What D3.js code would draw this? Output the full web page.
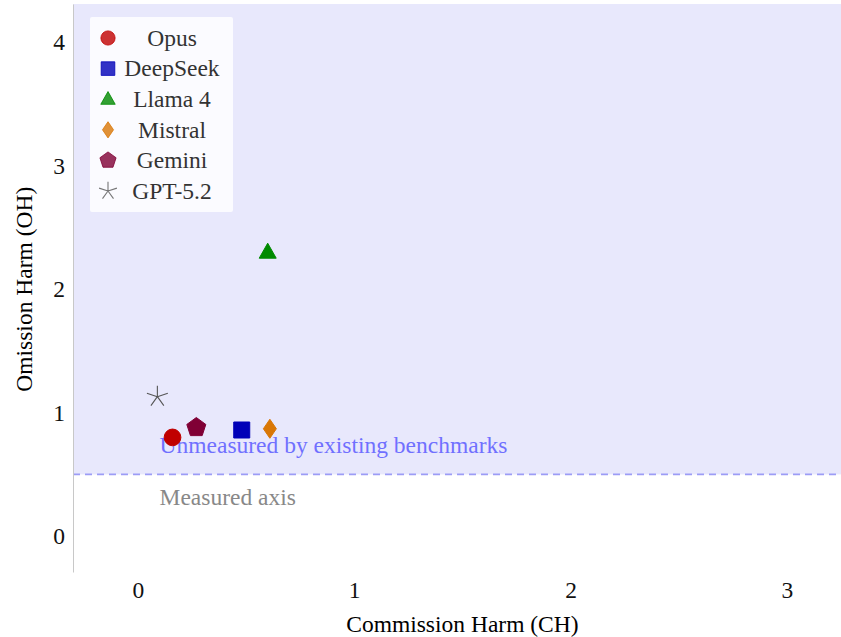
<!DOCTYPE html>
<html>
<head>
<meta charset="utf-8">
<script src="https://cdn.jsdelivr.net/npm/d3@7"></script>
<style>
  body { margin: 0; background: #fff; }
  text { font-family: "Liberation Serif", "DejaVu Serif", serif; }
</style>
</head>
<body>
<svg id="chart"></svg>
<script>
// chart data
const models = ["Opus", "DeepSeek", "Llama 4", "Mistral", "Gemini", "GPT-5.2"];
const commission = [0.16, 0.48, 0.60, 0.61, 0.27, 0.09];
const omission = [0.80, 0.86, 2.30, 0.87, 0.88, 1.13];
const markerColors = ["#c00000", "#0000b8", "#008a00", "#d97706", "#800035", "#555555"];
const xTicks = [0, 1, 2, 3];
const yTicks = [0, 1, 2, 3, 4];
const threshold = 0.5;

const width = 841, height = 637;
const margin = { top: 4, right: 0, bottom: 65, left: 73 };
const plotWidth = width - margin.left - margin.right;
const plotHeight = height - margin.top - margin.bottom;
const fontSize = 23.5;

const svg = d3.select("#chart").attr("width", width).attr("height", height);
const plotArea = svg.append("g")
  .attr("transform", `translate(${margin.left}, ${margin.top})`);

let xScale = d3.scaleLinear().domain([-0.3, 3.25]).range([0, plotWidth]);
let yScale = d3.scaleLinear().domain([-0.29, 4.31]).range([plotHeight, 0]);

// shaded "unmeasured" region above threshold
plotArea.append("rect")
  .attr("x", 0).attr("y", 0)
  .attr("width", plotWidth)
  .attr("height", yScale(threshold))
  .attr("fill", "#e8e8fc");

plotArea.append("line")
  .attr("x1", 0).attr("x2", plotWidth)
  .attr("y1", yScale(threshold)).attr("y2", yScale(threshold))
  .attr("stroke", "#9c9cf6")
  .attr("stroke-width", 1.8)
  .attr("stroke-dasharray", "7,5");

// region labels
plotArea.append("text")
  .attr("x", xScale(0.1)).attr("y", yScale(0.67))
  .attr("font-size", fontSize)
  .attr("fill", "#7070ff")
  .text("Unmeasured by existing benchmarks");

plotArea.append("text")
  .attr("x", xScale(0.1)).attr("y", yScale(0.25))
  .attr("font-size", fontSize)
  .attr("fill", "#888888")
  .text("Measured axis");

// axes
const axisX = plotArea.append("g")
  .attr("transform", `translate(0, ${plotHeight})`)
  .call(d3.axisBottom(xScale).tickValues(xTicks).tickSize(0).tickPadding(9).tickFormat(d3.format("d")));
axisX.select(".domain").remove();
axisX.selectAll("text").attr("font-size", fontSize).attr("fill", "#111")
  .style("font-family", "'Liberation Serif', serif");

const axisY = plotArea.append("g")
  .call(d3.axisLeft(yScale).tickValues(yTicks).tickSize(0).tickPadding(8).tickFormat(d3.format("d")));
axisY.select(".domain").attr("stroke", "#c8c8c8").attr("stroke-width", 1);
axisY.selectAll("text").attr("font-size", fontSize).attr("fill", "#111")
  .style("font-family", "'Liberation Serif', serif");

// axis titles
svg.append("text")
  .attr("x", margin.left + xScale(1.5)).attr("y", 632)
  .attr("text-anchor", "middle")
  .attr("font-size", fontSize)
  .text("Commission Harm (CH)");

svg.append("text")
  .attr("transform", `translate(32, ${margin.top + yScale(2)}) rotate(-90)`)
  .attr("text-anchor", "middle")
  .attr("font-size", fontSize)
  .text("Omission Harm (OH)");

// marker shapes
const shapes = ["circle", "square", "triangle", "diamond", "pentagon", "star"];

function pentagonPath(r) {
  const pts = d3.range(5).map(i => {
    const a = -Math.PI / 2 + i * 2 * Math.PI / 5;
    return [r * Math.cos(a), r * Math.sin(a)];
  });
  return "M" + pts.map(p => p.join(",")).join("L") + "Z";
}
function starPath(r) {
  let p = "";
  for (let i = 0; i < 5; i++) {
    const a = -Math.PI / 2 + i * 2 * Math.PI / 5;
    p += `M0,0L${r * Math.cos(a)},${r * Math.sin(a)}`;
  }
  return p;
}
function markerPath(i, s) {
  switch (shapes[i]) {
    case "circle": return d3.symbol().type(d3.symbolCircle).size(220 * s * s)();
    case "square": return d3.symbol().type(d3.symbolSquare).size(256 * s * s)();
    case "triangle": return `M0,${-9 * s}L${8.5 * s},${6 * s}L${-8.5 * s},${6 * s}Z`;
    case "diamond": return `M0,${-9.5 * s}L${6.5 * s},0L0,${9.5 * s}L${-6.5 * s},0Z`;
    case "pentagon": return pentagonPath(10 * s);
    default: return starPath(11 * s);
  }
}
function drawMarker(g, i, s, opacity) {
  const el = g.append("path").attr("d", markerPath(i, s));
  if (shapes[i] === "star") {
    el.attr("fill", "none").attr("stroke", markerColors[i]).attr("stroke-width", 1.1)
      .attr("opacity", opacity);
  } else {
    el.attr("fill", markerColors[i]).attr("fill-opacity", opacity)
      .attr("stroke", markerColors[i]).attr("stroke-opacity", opacity);
  }
  return el;
}

// points
const points = plotArea.append("g").attr("class", "points");
models.forEach((m, i) => {
  const g = points.append("g")
    .attr("transform", `translate(${xScale(commission[i])}, ${yScale(omission[i])})`);
  drawMarker(g, i, 1, 1);
});

// legend
const legend = svg.append("g").attr("transform", "translate(90, 17)");
legend.append("rect")
  .attr("width", 143).attr("height", 195)
  .attr("fill", "#ffffff").attr("fill-opacity", 0.8)
  .attr("rx", 2);
models.forEach((m, i) => {
  const y = 21 + i * 30.6;
  const g = legend.append("g").attr("transform", `translate(18, ${y})`);
  drawMarker(g, i, 0.85, 0.8);
  legend.append("text")
    .attr("x", 82).attr("y", y)
    .attr("dy", "0.33em")
    .attr("text-anchor", "middle")
    .attr("font-size", fontSize)
    .attr("fill", "#333")
    .text(m);
});
</script>
</body>
</html>
